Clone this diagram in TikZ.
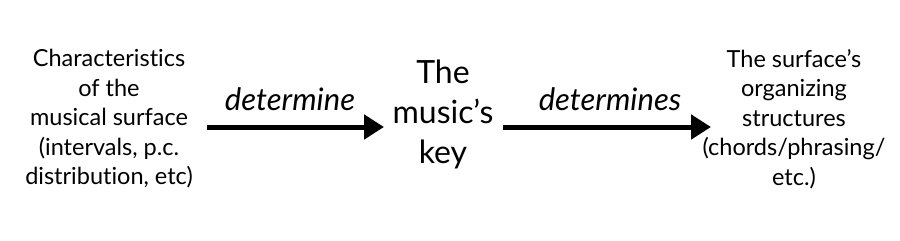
\documentclass[tikz,border=0pt]{standalone}
\usepackage{fontspec}
\setmainfont[RawFeature={-liga;-dlig;-clig}]{Lato}
\usetikzlibrary{arrows.meta}
\begin{document}
\begin{tikzpicture}[x=1pt,y=-1pt,
  side/.style={align=center,font=\fontsize{23.5}{29.5}\selectfont,inner sep=0pt},
  mid/.style={align=center,font=\fontsize{32}{40}\selectfont,inner sep=0pt},
  lbl/.style={font=\fontsize{31}{33}\selectfont\itshape,inner sep=0pt},
  arr/.style={line width=5pt,-{Triangle[length=20pt,width=24pt]}}]
\useasboundingbox (0,0) rectangle (900,241);
\node[side] (src) at (109,119) {Characteristics\\of the\\musical surface\\(intervals, p.c.\\distribution, etc)};
\node[mid] (key) at (443,114) {The\\music’s\\key};
\node[side] (out) at (794,119) {The surface’s\\organizing\\structures\\(chords/phrasing/\\etc.)};
\coordinate (a1s) at (207,127);
\coordinate (a1e) at (384,127);
\coordinate (a2s) at (503,127);
\coordinate (a2e) at (711,127);
\draw[arr] (a1s) -- (a1e);
\draw[arr] (a2s) -- (a2e);
\node[lbl] (l1) at (290,99) {determine};
\node[lbl] (l2) at (610,99) {determines};
\end{tikzpicture}
\end{document}
